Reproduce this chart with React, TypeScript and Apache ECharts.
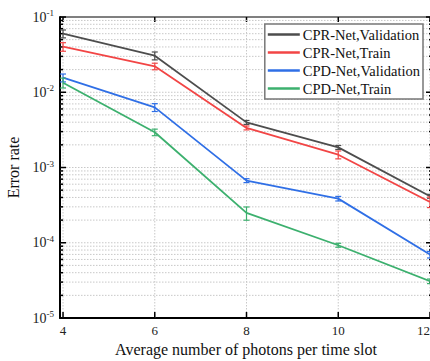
import React, { useEffect, useRef } from "react";
import * as echarts from "echarts";

const photons = [4, 6, 8, 10, 12];
const seriesNames = ["CPR-Net,Validation", "CPR-Net,Train", "CPD-Net,Validation", "CPD-Net,Train"];
const cprVal = [0.06, 0.0306, 0.00398, 0.00185, 0.000415];
const cprTrain = [0.0403, 0.0221, 0.00336, 0.00148, 0.000349];
const cpdVal = [0.0156, 0.0063, 0.00067, 0.000386, 0.0000697];
const cpdTrain = [0.0134, 0.00294, 0.000249, 0.0000927, 0.0000308];
// relative error-bar half heights
const cprValErr = [0.12, 0.12, 0.06, 0.06, 0.06];
const cprTrainErr = [0.13, 0.1, 0.06, 0.12, 0.16];
const cpdValErr = [0.12, 0.12, 0.06, 0.07, 0.1];
const cpdTrainErr = [0.15, 0.1, 0.2, 0.06, 0.07];
const colors = ["#4d4d4d", "#f24545", "#2f6fe6", "#3cb06e"];
const xTicks = [4, 6, 8, 10, 12];
const yDecades = [-5, -4, -3, -2, -1];

const FONT = "Liberation Serif";

export default function App() {
  const ref = useRef<HTMLDivElement>(null);
  useEffect(() => {
    if (!ref.current) return;
    const chart = echarts.init(ref.current, null, { renderer: "svg" });
    const values = [cprVal, cprTrain, cpdVal, cpdTrain];
    const errs = [cprValErr, cprTrainErr, cpdValErr, cpdTrainErr];

    const frameSeries: any = {
      type: "custom",
      silent: true,
      z: 1,
      data: [[4, 0.01]],
      renderItem: (params: any, api: any) => {
        const children: any[] = [];
        const gs = { stroke: "#c8c8c8", lineWidth: 1, lineDash: [1.5, 1.5] };
        const top = api.coord([4, 0.1])[1];
        const bot = api.coord([4, 1e-5])[1];
        const cs = params.coordSys;
        const left = cs.x;
        const right = cs.x + cs.width;
        xTicks.forEach((t) => {
          const x = api.coord([t, 0.01])[0];
          children.push({ type: "line", shape: { x1: x, y1: top, x2: x, y2: bot }, style: gs });
          children.push({ type: "line", shape: { x1: x, y1: bot, x2: x, y2: bot - 6 }, style: { stroke: "#000", lineWidth: 1.5 } });
          children.push({ type: "line", shape: { x1: x, y1: top, x2: x, y2: top + 5 }, style: { stroke: "#000", lineWidth: 1.5 } });
        });
        yDecades.forEach((e) => {
          for (let k = 1; k <= 9; k++) {
            if (e === -1 && k > 1) break;
            const v = k * Math.pow(10, e);
            const y = api.coord([4, v])[1];
            if (!(e === -5 && k === 1) && !(e === -1)) {
              children.push({ type: "line", shape: { x1: left, y1: y, x2: right, y2: y }, style: gs });
            }
            const len = k === 1 ? 6 : 3;
            children.push({ type: "line", shape: { x1: left, y1: y, x2: left + len, y2: y }, style: { stroke: "#000", lineWidth: 1.5 } });
            children.push({ type: "line", shape: { x1: right, y1: y, x2: right - len, y2: y }, style: { stroke: "#000", lineWidth: 1.5 } });
          }
        });
        return { type: "group", children };
      },
    };

    const lineSeries = values.map((vals, i) => ({
      name: seriesNames[i],
      type: "line",
      data: photons.map((x, j) => [x, vals[j]]),
      symbol: "none",
      lineStyle: { color: colors[i], width: 1.8 },
      itemStyle: { color: colors[i] },
      z: 3,
    }));

    const errSeries = values.map((vals, i) => ({
      name: seriesNames[i] + " err",
      type: "custom",
      silent: true,
      z: 4,
      data: photons.map((x, j) => [x, vals[j] * (1 - errs[i][j]), vals[j] * (1 + errs[i][j])]),
      renderItem: (params: any, api: any) => {
        const lo = api.coord([api.value(0), api.value(1)]);
        const hi = api.coord([api.value(0), api.value(2)]);
        const w = 3;
        const st = { stroke: colors[i], lineWidth: 1.2 };
        return {
          type: "group",
          children: [
            { type: "line", shape: { x1: lo[0], y1: lo[1], x2: hi[0], y2: hi[1] }, style: st },
            { type: "line", shape: { x1: lo[0] - w, y1: lo[1], x2: lo[0] + w, y2: lo[1] }, style: st },
            { type: "line", shape: { x1: hi[0] - w, y1: hi[1], x2: hi[0] + w, y2: hi[1] }, style: st },
          ],
        };
      },
    }));

    chart.setOption({
      animation: false,
      backgroundColor: "#fff",
      grid: {
        left: 60, top: 17, right: -2, bottom: 43,
        containLabel: false, outerBoundsMode: "none",
        show: true, borderColor: "#000", borderWidth: 1,
      },
      legend: {
        data: seriesNames.map((n, i) => ({ name: n, icon: "rect", itemStyle: { color: colors[i] } })),
        orient: "vertical",
        right: 7,
        top: 24,
        backgroundColor: "#fff",
        borderColor: "#777",
        borderWidth: 1.5,
        borderRadius: 0,
        padding: [3, 3, 3, 3],
        itemGap: 3,
        itemWidth: 32,
        itemHeight: 2.5,
        textStyle: { fontFamily: FONT, fontSize: 14.5, color: "#111", padding: [0, 0, 0, -2] },
        z: 10,
      },
      xAxis: {
        type: "value",
        min: 3.934,
        max: 12.044,
        name: "Average number of photons per time slot",
        nameLocation: "middle",
        nameGap: 23,
        nameTextStyle: { fontFamily: FONT, fontSize: 16, color: "#111" },
        axisLine: { show: true, lineStyle: { color: "#000", width: 2 } },
        axisTick: { show: false },
        splitLine: { show: false },
        axisLabel: {
          customValues: xTicks,
          fontFamily: FONT,
          fontSize: 13,
          color: "#222",
          margin: 6,
          hideOverlap: false,
          formatter: (v: number) => (v === 12 ? `{r|${v}}` : `${v}`),
          rich: {
            r: { fontFamily: FONT, fontSize: 13, color: "#222", padding: [0, 13, 0, 0] },
          },
        },
      },
      yAxis: {
        type: "log",
        logBase: 10,
        min: 1e-5,
        max: 0.1,
        name: "Error rate",
        nameLocation: "middle",
        nameGap: 38,
        nameTextStyle: { fontFamily: FONT, fontSize: 16, color: "#111" },
        axisLine: { show: true, lineStyle: { color: "#000", width: 2 } },
        axisTick: { show: false },
        splitLine: { show: false },
        axisLabel: {
          margin: 6,
          formatter: (v: number) => `{b|10}{s|${Math.round(Math.log10(v))}}`,
          rich: {
            b: { fontFamily: FONT, fontSize: 14, color: "#222" },
            s: { fontFamily: FONT, fontSize: 9, color: "#222", verticalAlign: "top", padding: [0, 0, 8, 0] },
          },
        },
      },
      series: [frameSeries, ...lineSeries, ...errSeries],
    });
    return () => chart.dispose();
  }, []);
  return <div ref={ref} style={{ width: 430, height: 361, position: "absolute", left: 0, top: 0 }} />;
}
